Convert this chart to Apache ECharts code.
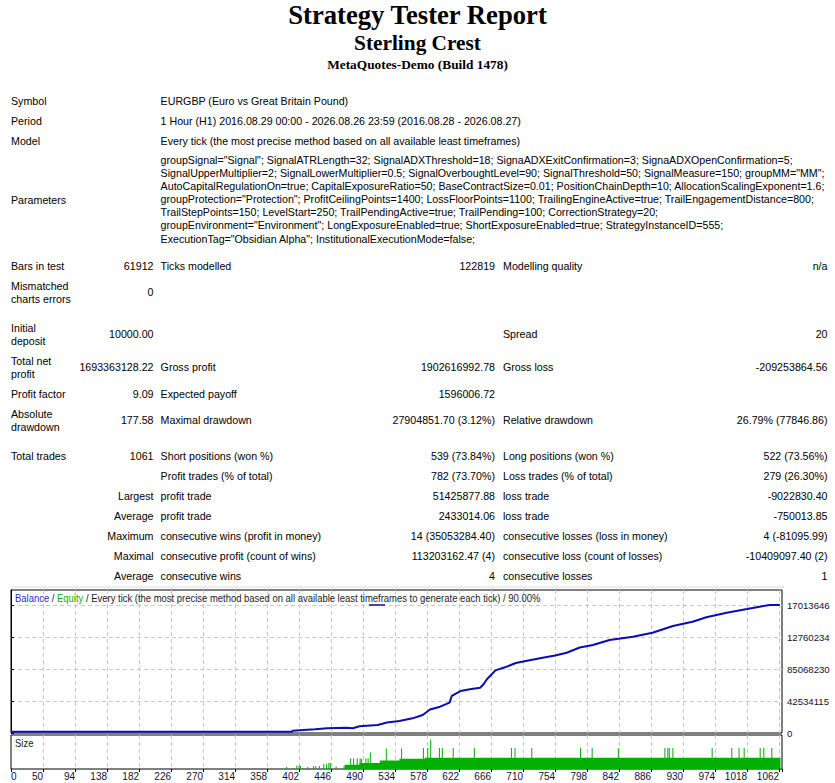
<!DOCTYPE html>
<html><head><meta charset="utf-8">
<script src="https://cdn.jsdelivr.net/npm/echarts@6/dist/echarts.min.js"></script>
<style>
html,body{margin:0;padding:0;background:#fff;width:835px;height:783px;overflow:hidden;}
#page{position:relative;width:835px;height:783px;font-family:'Liberation Sans',Arial,sans-serif;font-size:10.67px;color:#000;}
.t{position:absolute;white-space:nowrap;line-height:13px;height:13px;}
.h{position:absolute;left:0;width:835px;text-align:center;font-family:'Liberation Serif','Times New Roman',serif;font-weight:bold;white-space:nowrap;}
#chart{position:absolute;left:0;top:585px;width:835px;height:198px;}
</style></head>
<body><div id="page">
<div class="h" style="top:1px;font-size:26.67px;line-height:28px;">Strategy Tester Report</div>
<div class="h" style="top:32px;font-size:21.33px;line-height:23px;">Sterling Crest</div>
<div class="h" style="top:57px;font-size:13.33px;line-height:15px;">MetaQuotes-Demo (Build 1478)</div>
<div id="chart"></div>
</div>
<script>
// ---- report table text (label, value) ----
const paramLines = [
 'groupSignal="Signal"; SignalATRLength=32; SignalADXThreshold=18; SignaADXExitConfirmation=3; SignaADXOpenConfirmation=5;',
 'SignalUpperMultiplier=2; SignalLowerMultiplier=0.5; SignalOverboughtLevel=90; SignalThreshold=50; SignalMeasure=150; groupMM="MM";',
 'AutoCapitalRegulationOn=true; CapitalExposureRatio=50; BaseContractSize=0.01; PositionChainDepth=10; AllocationScalingExponent=1.6;',
 'groupProtection="Protection"; ProfitCeilingPoints=1400; LossFloorPoints=1100; TrailingEngineActive=true; TrailEngagementDistance=800;',
 'TrailStepPoints=150; LevelStart=250; TrailPendingActive=true; TrailPending=100; CorrectionStrategy=20;',
 'groupEnvironment="Environment"; LongExposureEnabled=true; ShortExposureEnabled=true; StrategyInstanceID=555;',
 'ExecutionTag="Obsidian Alpha"; InstitutionalExecutionMode=false;'
];
const headRows = [
 ['Symbol','EURGBP (Euro vs Great Britain Pound)'],
 ['Period','1 Hour (H1) 2016.08.29 00:00 - 2026.08.26 23:59 (2016.08.28 - 2026.08.27)'],
 ['Model','Every tick (the most precise method based on all available least timeframes)']
];
// [col1 label lines, col1 value, col2 label, col2 value, col3 label, col3 value]
const statRows = [
 [['Bars in test'],'61912','Ticks modelled','122819','Modelling quality','n/a'],
 [['Mismatched','charts errors'],'0','','','',''],
 [['Initial','deposit'],'10000.00','','','Spread','20'],
 [['Total net','profit'],'1693363128.22','Gross profit','1902616992.78','Gross loss','-209253864.56'],
 [['Profit factor'],'9.09','Expected payoff','1596006.72','',''],
 [['Absolute','drawdown'],'177.58','Maximal drawdown','27904851.70 (3.12%)','Relative drawdown','26.79% (77846.86)'],
 [['Total trades'],'1061','Short positions (won %)','539 (73.84%)','Long positions (won %)','522 (73.56%)'],
 [[],'','Profit trades (% of total)','782 (73.70%)','Loss trades (% of total)','279 (26.30%)'],
 [[],'Largest','profit trade','51425877.88','loss trade','-9022830.40'],
 [[],'Average','profit trade','2433014.06','loss trade','-750013.85'],
 [[],'Maximum','consecutive wins (profit in money)','14 (35053284.40)','consecutive losses (loss in money)','4 (-81095.99)'],
 [[],'Maximal','consecutive profit (count of wins)','113203162.47 (4)','consecutive loss (count of losses)','-10409097.40 (2)'],
 [[],'Average','consecutive wins','4','consecutive losses','1']
];
// layout (pixel positions of the report rows)
const headY = [101, 121, 141];
const paramY0 = 160.7, paramStep = 13.05, paramLabelY = 200.7;
const statY = [266, 292.5, 334.7, 367.7, 394, 420.5, 456, 476, 496, 516, 536.5, 556.5, 576];
const C1L = 11, C1R = 153.5, C2L = 160.6, C2R = 495, C3L = 503, C3R = 827.5;

const page = document.getElementById('page');
function addText(txt, x, y, right) {
  if (!txt) return;
  const d = document.createElement('div');
  d.className = 't';
  d.textContent = txt;
  d.style.top = (y - 6.5) + 'px';
  if (right) d.style.right = (835 - x) + 'px'; else d.style.left = x + 'px';
  page.appendChild(d);
}
headRows.forEach((r, i) => { addText(r[0], C1L, headY[i]); addText(r[1], C2L, headY[i]); });
addText('Parameters', C1L, paramLabelY);
paramLines.forEach((l, i) => addText(l, C2L, paramY0 + i * paramStep));
statRows.forEach((r, i) => {
  const y = statY[i];
  const n = r[0].length;
  r[0].forEach((l, k) => addText(l, C1L, y + (k - (n - 1) / 2) * 13));
  addText(r[1], C1R, y, true);
  addText(r[2], C2L, y);
  addText(r[3], C2R, y, true);
  addText(r[4], C3L, y);
  addText(r[5], C3R, y, true);
});

// ---- chart data ----
const xTickLabels = ['0','50','94','138','182','226','270','314','358','402','446','490','534','578','622','666','710','754','798','842','886','930','974','1018','1062'];
const yTickStep = 425341150;
const balanceTrade = [0, 386, 387, 418, 435, 461, 470, 479, 504, 517, 534, 552, 566, 576, 590, 603, 606, 618, 631, 645, 650, 654, 666, 679, 694, 713, 731, 748, 764, 782, 800, 823, 855, 882, 910, 937, 956, 984, 1012, 1029, 1043, 1057];
const balanceValue = [15000000, 15000000, 31000000, 49000000, 62000000, 70000000, 64000000, 89000000, 106000000, 140000000, 160000000, 195000000, 239000000, 312000000, 350000000, 403000000, 492000000, 558000000, 581000000, 602000000, 651000000, 711000000, 833000000, 873000000, 930000000, 968000000, 1001000000, 1030000000, 1067000000, 1136000000, 1170000000, 1236000000, 1280000000, 1333000000, 1422000000, 1479000000, 1538000000, 1599000000, 1648000000, 1679000000, 1700000000, 1703000000];
const sizeBaseTrade = [459, 479, 507, 534, 569, 1058];
const sizeBaseValue = [0.42, 0.6, 0.85, 1.02, 1.12, 1.12];
const sizeSpikeTrade = [379, 393, 396, 398, 408, 416, 419, 424, 430, 434, 437, 439, 447, 458, 467, 471, 476, 480, 482, 488, 491, 494, 516, 537, 567, 573, 577, 589, 593, 608, 637, 688, 693, 716, 783, 799, 835, 899, 903, 905, 910, 964, 991, 1001, 1008, 1030, 1035, 1046];
const sizeSpikeValue = [0.2, 0.35, 0.35, 0.3, 0.2, 0.3, 0.3, 0.3, 0.5, 0.5, 0.6, 0.6, 0.25, 0.35, 1.08, 1.08, 1.08, 1.08, 1.0, 1.08, 1.08, 1.67, 2.05, 2.05, 2.09, 2.09, 2.95, 2.09, 2.09, 2.09, 2.09, 2.09, 2.09, 2.09, 2.09, 2.09, 2.09, 2.09, 2.09, 2.09, 2.09, 2.09, 2.09, 2.09, 2.09, 2.09, 2.09, 2.09];

const zip = (a, b) => a.map((v, i) => [v, b[i]]);
const GREEN = '#00b000', BLUE = '#0c0cb0', GRIDC = '#c8c8c8';
const FONT = 'Liberation Sans';
const FS = 9.6;

const chart = echarts.init(document.getElementById('chart'), null, {renderer: 'svg'});
const xBase = {
  type: 'value', min: 0, max: 1060, interval: 44,
  splitLine: {show: true, showMinLine: false, showMaxLine: false, lineStyle: {color: GRIDC, type: [4, 3], width: 1}},
  axisLine: {show: false}
};
chart.setOption({
  animation: false,
  grid: [
    {left: 11, top: 5, width: 771, height: 143, show: true, borderColor: '#000', borderWidth: 1, backgroundColor: '#fff'},
    {left: 11, top: 150, width: 771, height: 34, show: true, borderColor: '#000', borderWidth: 1, backgroundColor: '#fff'}
  ],
  xAxis: [
    Object.assign({}, xBase, {gridIndex: 0, axisLabel: {show: false}, axisTick: {show: false}}),
    Object.assign({}, xBase, {gridIndex: 1,
      axisTick: {show: true, length: 3, lineStyle: {color: '#000'}},
      axisLabel: {show: true, margin: 2, align: 'right', alignMinLabel: 'left', color: '#111133', fontFamily: FONT, fontSize: 10,
        formatter: v => { const s = xTickLabels[Math.round(v / 44)]; return (s !== undefined && Math.abs(v - Math.round(v / 44) * 44) < 1e-6) ? s : ''; }}})
  ],
  yAxis: [
    {type: 'value', gridIndex: 0, position: 'right', min: 0, max: 1900743273, interval: yTickStep,
      axisLine: {show: true, lineStyle: {color: '#000'}},
      axisTick: {show: true, length: 3, lineStyle: {color: '#000'}},
      splitLine: {show: true, showMinLine: false, showMaxLine: false, lineStyle: {color: GRIDC, type: [4, 3], width: 1}},
      axisLabel: {show: true, margin: 5, color: '#111133', fontFamily: FONT, fontSize: FS, showMaxLabel: false,
        formatter: v => v > yTickStep * 4 + 1 ? '' : String(Math.round(v)).slice(0, 8)}},
    {type: 'value', gridIndex: 1, min: 0, max: 3.4, show: false, splitLine: {show: false}}
  ],
  graphic: [
    {type: 'line', shape: {x1: 11, y1: 2, x2: 784, y2: 2}, style: {stroke: '#dcdcdc', lineWidth: 1}, silent: true},
    {type: 'text', x: 15, y: 8, scaleX: 0.86, z: 100, style: {
      text: '{b|Balance}{k| / }{g|Equity}{k| / Every tick (the most precise method based on all available least timeframes to generate each tick) / 90.00%}',
      rich: {
        b: {fill: '#2a2ad0', fontFamily: FONT, fontSize: 11},
        g: {fill: '#10b010', fontFamily: FONT, fontSize: 11},
        k: {fill: '#1a1a1a', fontFamily: FONT, fontSize: 11}
      }}},
    {type: 'line', z: 100, shape: {x1: 369, y1: 20, x2: 385, y2: 20}, style: {stroke: BLUE, lineWidth: 1.5}},
    {type: 'text', x: 15, y: 153, scaleX: 0.86, z: 100, style: {text: 'Size', fill: '#1a1a1a', fontFamily: FONT, fontSize: 11}}
  ],
  series: [
    {name: 'Balance', type: 'line', xAxisIndex: 0, yAxisIndex: 0, data: zip(balanceTrade, balanceValue),
      showSymbol: false, symbol: 'none', lineStyle: {color: BLUE, width: 2}, z: 5},
    {name: 'SizeBase', type: 'line', xAxisIndex: 1, yAxisIndex: 1, step: 'end', data: zip(sizeBaseTrade, sizeBaseValue),
      symbol: 'none', lineStyle: {width: 0, color: GREEN}, areaStyle: {color: GREEN, opacity: 1}},
    {name: 'Size', type: 'bar', xAxisIndex: 1, yAxisIndex: 1, barWidth: 1, data: zip(sizeSpikeTrade, sizeSpikeValue),
      itemStyle: {color: GREEN}}
  ]
});
</script>
</body></html>
